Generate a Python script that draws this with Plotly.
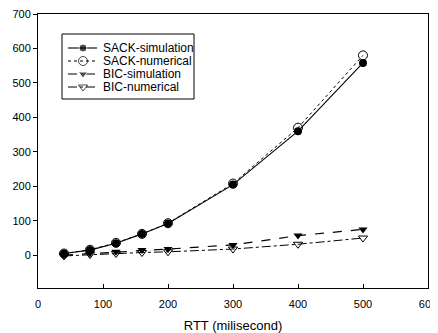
import plotly.graph_objects as go

rtt = [40, 80, 120, 160, 200, 300, 400, 500]
sack_sim = [5, 15, 35, 62, 92, 205, 360, 558]
sack_num = [5, 16, 36, 62, 93, 208, 370, 580]
bic_sim = [0, 5, 10, 15, 18, 30, 57, 75]
bic_num = [-2, 2, 5, 8, 10, 18, 32, 50]

names = ["SACK-simulation", "SACK-numerical", "BIC-simulation", "BIC-numerical"]
series = [sack_sim, sack_num, bic_sim, bic_num]
styles = [
    dict(line=dict(color="black", width=1.1, dash="solid"),
         marker=dict(symbol="circle", size=8, color="black")),
    dict(line=dict(color="black", width=1, dash="dot"),
         marker=dict(symbol="circle-open", size=9, color="black", line=dict(width=1))),
    dict(line=dict(color="black", width=1.2, dash="dash"),
         marker=dict(symbol="triangle-down", size=8, color="black")),
    dict(line=dict(color="black", width=1, dash="dashdot"),
         marker=dict(symbol="triangle-down-open", size=8, color="black", line=dict(width=1))),
]

fig = go.Figure()
for n, s, st in zip(names, series, styles):
    fig.add_trace(go.Scatter(x=rtt, y=s, name=n, mode="lines+markers",
                             showlegend=False, **st))

# page body has an 8px margin: figure coords = window coords - 8
OFF = 8
W, H = 438 - OFF, 333 - OFF
PL, PR, PT, PB = 38, 428, 14, 288  # plot area in window pixels
L, R, T, B = PL - OFF, PR - OFF, PT - OFF, PB - OFF

# Hand-drawn legend on an overlay axis measured in window pixels
row_y = [48, 61, 74, 87]
for n, st, ry in zip(names, styles, row_y):
    mk = dict(st["marker"])
    mk["size"] = [0, mk["size"], 0]
    fig.add_trace(go.Scatter(x=[68, 83, 97], y=[ry, ry, ry], mode="lines+markers",
                             xaxis="x2", yaxis="y2", showlegend=False, hoverinfo="skip",
                             line=st["line"], marker=mk))
    fig.add_annotation(x=101, y=ry, xref="x2", yref="y2", text=n, showarrow=False,
                       xanchor="left", yanchor="middle",
                       font=dict(size=12, family="Liberation Sans, Arial", color="black"))
fig.add_shape(type="rect", x0=62, x1=194, y0=34, y1=99, xref="x2", yref="y2",
              line=dict(color="black", width=1), layer="below")

fig.update_layout(
    width=W, height=H,
    margin=dict(l=L, r=W - R, t=T, b=H - B),
    paper_bgcolor="white", plot_bgcolor="white",
    font=dict(family="Liberation Sans, Arial", size=11, color="black"),
    showlegend=False,
    xaxis=dict(range=[0, 600], tickvals=[0, 100, 200, 300, 400, 500, 600],
               ticks="inside", ticklen=4, tickcolor="black", automargin=False,
               ticklabeloverflow="allow", ticklabelstandoff=6,
               showline=True, linecolor="black", linewidth=1, mirror=True,
               showgrid=False, zeroline=False,
               title=dict(text="RTT (milisecond)", font=dict(size=13), standoff=11)),
    yaxis=dict(range=[-95, 700], tickvals=[0, 100, 200, 300, 400, 500, 600, 700],
               ticks="outside", ticklen=4, tickcolor="black", automargin=False,
               ticklabeloverflow="allow",
               showline=True, linecolor="black", linewidth=1, mirror=True,
               showgrid=False, zeroline=False),
    xaxis2=dict(range=[PL, PR], overlaying="x", visible=False, fixedrange=True),
    yaxis2=dict(range=[PB, PT], overlaying="y", visible=False, fixedrange=True),
)

fig.write_html("out.html")
